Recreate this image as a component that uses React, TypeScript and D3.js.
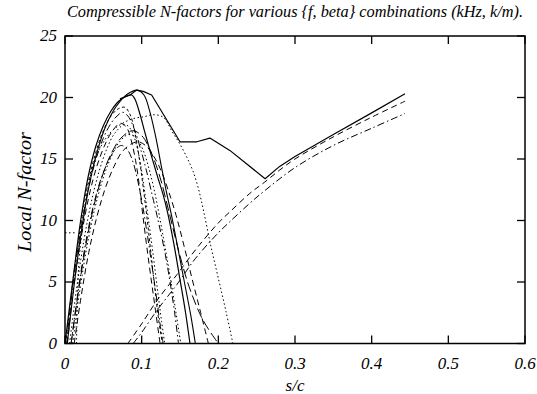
import React from "react";
import * as d3 from "d3";

type Pt = [number, number];

const xTicks = [0, 0.1, 0.2, 0.3, 0.4, 0.5, 0.6];
const yTicks = [0, 5, 10, 15, 20, 25];

const envelope: Pt[] = [[0.0717,19.9],[0.0848,20.2],[0.0935,20.6],[0.102,20.5],[0.113,20.2],[0.15,16.4],[0.172,16.4],[0.189,16.7],[0.215,15.7],[0.261,13.4],[0.28,14.4],[0.3,15.2],[0.35,17.0],[0.4,18.75],[0.4435,20.3]];
const solid1: Pt[] = [[0,0],[0.01,5],[0.02,9.8],[0.03,13.5],[0.04,16],[0.05,17.7],[0.06,18.9],[0.07,19.7],[0.08,20.1],[0.087,20.2],[0.091,19.9],[0.098,18.6],[0.104,17.2],[0.113,15.2],[0.121,13.5],[0.128,12.1],[0.134,10.6],[0.142,8.1],[0.15,5.2],[0.157,2.6],[0.163,0]];
const solid2: Pt[] = [[0.003,0],[0.012,4.8],[0.022,9.4],[0.032,13],[0.042,15.6],[0.052,17.5],[0.062,18.8],[0.072,19.7],[0.082,20.3],[0.094,20.6],[0.103,20.2],[0.11,19],[0.118,16.9],[0.126,14.3],[0.132,12.4],[0.139,10.4],[0.148,7.5],[0.156,4.9],[0.164,2.3],[0.17,0]];
const dottedBig: Pt[] = [[0.015,0],[0.016,3],[0.018,6.5],[0.024,10],[0.033,13.6],[0.045,15.8],[0.06,17.2],[0.075,17.9],[0.09,18.3],[0.104,18.45],[0.115,18.6],[0.128,18.4],[0.14,17.2],[0.15,16.2],[0.16,15],[0.167,14],[0.174,12.6],[0.181,10.7],[0.19,8],[0.2,5.3],[0.21,2.6],[0.219,0]];
const dottedStub: Pt[] = [[0,9],[0.014,9]];
const dashdot1: Pt[] = [[0.002,0],[0.01,4.6],[0.02,9],[0.03,12.4],[0.04,14.9],[0.05,16.7],[0.06,17.9],[0.068,18.5],[0.075,18.8],[0.082,18.5],[0.09,17.5],[0.1,15.5],[0.106,14.1],[0.114,12],[0.12,10.4],[0.13,7.5],[0.137,5],[0.143,2.5],[0.148,0]];
const dashed2: Pt[] = [[0.003,0],[0.011,4.4],[0.021,8.6],[0.031,11.9],[0.041,14.3],[0.051,16],[0.061,17.2],[0.072,17.9],[0.08,17.6],[0.086,16.6],[0.092,14.9],[0.097,12.8],[0.101,10.7],[0.106,8.2],[0.112,5.4],[0.118,2.7],[0.124,0]];
const dotted3: Pt[] = [[0.006,0],[0.015,4.4],[0.025,8.5],[0.035,11.7],[0.045,14.1],[0.055,15.9],[0.065,17.1],[0.078,17.8],[0.086,17.4],[0.093,16.2],[0.099,14.4],[0.104,12.3],[0.109,10],[0.115,7.2],[0.121,4.2],[0.126,1.8],[0.13,0]];
const dashdot4: Pt[] = [[0.008,0],[0.017,4.2],[0.027,8.2],[0.037,11.2],[0.047,13.4],[0.057,14.9],[0.066,15.8],[0.074,16.1],[0.082,15.7],[0.089,14.7],[0.095,13.2],[0.101,11.3],[0.107,9],[0.113,6.5],[0.119,3.9],[0.124,1.6],[0.128,0]];
const shortdash5: Pt[] = [[0.001,0],[0.01,4.9],[0.02,9.4],[0.03,13],[0.04,15.5],[0.05,17.3],[0.06,18.5],[0.07,19.1],[0.078,19.2],[0.085,18.6],[0.091,17.2],[0.097,15],[0.102,12.7],[0.107,10.2],[0.112,7.4],[0.117,4.6],[0.122,2],[0.127,0]];
const dotted6: Pt[] = [[0.01,0],[0.019,4.2],[0.029,8],[0.039,11],[0.049,13.3],[0.059,15],[0.07,16.3],[0.083,17],[0.093,16.7],[0.102,15.7],[0.11,14.1],[0.117,12.3],[0.123,10.4],[0.13,8],[0.137,5.5],[0.144,2.8],[0.151,0]];
const dashed7: Pt[] = [[0.012,0],[0.021,3.8],[0.031,7.4],[0.042,10.4],[0.053,12.7],[0.064,14.4],[0.076,15.7],[0.094,16.4],[0.105,16.1],[0.115,15.3],[0.125,14.1],[0.135,12.4],[0.145,10.4],[0.155,8],[0.166,5.2],[0.177,2.5],[0.187,0]];
const longdash8: Pt[] = [[0.008,0],[0.017,4],[0.027,7.9],[0.037,11],[0.048,13.5],[0.06,15.4],[0.073,16.7],[0.088,17.3],[0.1,16.9],[0.112,15.6],[0.124,13.5],[0.136,10.6],[0.148,7.6],[0.162,4.6],[0.18,1.9],[0.2,0]];
const risingDashed: Pt[] = [[0.082,0],[0.1,1.6],[0.12,3.5],[0.146,5.6],[0.17,7.6],[0.2,9.8],[0.215,10.7],[0.241,12.2],[0.26,13.1],[0.28,14.1],[0.3,15],[0.35,16.8],[0.4,18.4],[0.4435,19.7]];
const risingDashDot: Pt[] = [[0.089,0],[0.1,0.9],[0.12,2.7],[0.146,4.8],[0.17,6.9],[0.2,9],[0.215,9.9],[0.241,11.4],[0.26,12.4],[0.3,14.3],[0.35,16.1],[0.4,17.5],[0.4435,18.7]];

const DASH = "6,4";
const DASHDOT = "7,3,1.5,3";
const DOT = "1.5,2.5";
const SHORT = "3,2.5";
const LONG = "10,4";

const series: { data: Pt[]; dash: string | null; smooth: boolean; w: number }[] = [
  { data: dottedStub, dash: DOT, smooth: false, w: 1 },
  { data: dottedBig, dash: DOT, smooth: true, w: 1 },
  { data: dotted3, dash: DOT, smooth: true, w: 1 },
  { data: dotted6, dash: DOT, smooth: true, w: 1 },
  { data: dashdot1, dash: DASHDOT, smooth: true, w: 1 },
  { data: dashdot4, dash: DASHDOT, smooth: true, w: 1 },
  { data: dashed2, dash: DASH, smooth: true, w: 1 },
  { data: shortdash5, dash: SHORT, smooth: true, w: 1 },
  { data: dashed7, dash: DASH, smooth: true, w: 1 },
  { data: longdash8, dash: LONG, smooth: true, w: 1 },
  { data: risingDashed, dash: DASH, smooth: true, w: 1 },
  { data: risingDashDot, dash: DASHDOT, smooth: true, w: 1 },
  { data: solid1, dash: null, smooth: true, w: 1.2 },
  { data: solid2, dash: null, smooth: true, w: 1.1 },
  { data: envelope, dash: null, smooth: false, w: 1.2 },
];

const W = 537, H = 394;
const M = { left: 65, right: 525, top: 36, bottom: 343.5 };
const FONT = "Liberation Serif, Times New Roman, DejaVu Serif, serif";

export default function App() {
  const x = d3.scaleLinear().domain([0, 0.6]).range([M.left, M.right]);
  const y = d3.scaleLinear().domain([0, 25]).range([M.bottom, M.top]);
  const lineSmooth = d3.line<Pt>().x(d => x(d[0])).y(d => y(d[1])).curve(d3.curveCatmullRom.alpha(0.5));
  const lineLin = d3.line<Pt>().x(d => x(d[0])).y(d => y(d[1]));
  const TL = 8;
  const txt = { fontFamily: FONT, fontStyle: "italic" as const };
  return (
    <svg width={W} height={H} style={{ position: "absolute", left: 0, top: 0, background: "#fff" }}>
      <rect x={0} y={0} width={W} height={H} fill="#fff" />
      <g fill="none" stroke="#000" strokeLinejoin="round">
        {series.map((s, i) => (
          <path key={i} d={(s.smooth ? lineSmooth : lineLin)(s.data) || ""} strokeWidth={s.w} strokeDasharray={s.dash || undefined} />
        ))}
      </g>
      <g stroke="#000" strokeWidth={1.3}>
        {xTicks.map((t, i) => (
          <g key={i}>
            <line x1={x(t)} x2={x(t)} y1={M.bottom} y2={M.bottom - TL} />
            <line x1={x(t)} x2={x(t)} y1={M.top} y2={M.top + TL} />
          </g>
        ))}
        {yTicks.map((t, i) => (
          <g key={i}>
            <line x1={M.left} x2={M.left + TL} y1={y(t)} y2={y(t)} />
            <line x1={M.right} x2={M.right - TL} y1={y(t)} y2={y(t)} />
          </g>
        ))}
      </g>
      <rect x={M.left} y={M.top} width={M.right - M.left} height={M.bottom - M.top} fill="none" stroke="#000" strokeWidth={1.5} />
      <g fill="#000" style={{ ...txt, fontSize: "17px" }}>
        {xTicks.map((t, i) => (
          <text key={i} x={x(t)} y={369} textAnchor="middle">{String(t)}</text>
        ))}
        {yTicks.map((t, i) => (
          <text key={i} x={57} y={y(t) + 5} textAnchor="end">{String(t)}</text>
        ))}
        <text x={295} y={391} textAnchor="middle">s/c</text>
        <text transform={`translate(31,192) rotate(-90)`} textAnchor="middle" style={{ fontSize: "18.5px" }} textLength={120} lengthAdjust="spacingAndGlyphs">Local N-factor</text>
        <text x={295} y={17} textAnchor="middle" style={{ fontSize: "16px" }} textLength={456} lengthAdjust="spacingAndGlyphs">Compressible N-factors for various {"{f, beta}"} combinations (kHz, k/m).</text>
      </g>
    </svg>
  );
}
